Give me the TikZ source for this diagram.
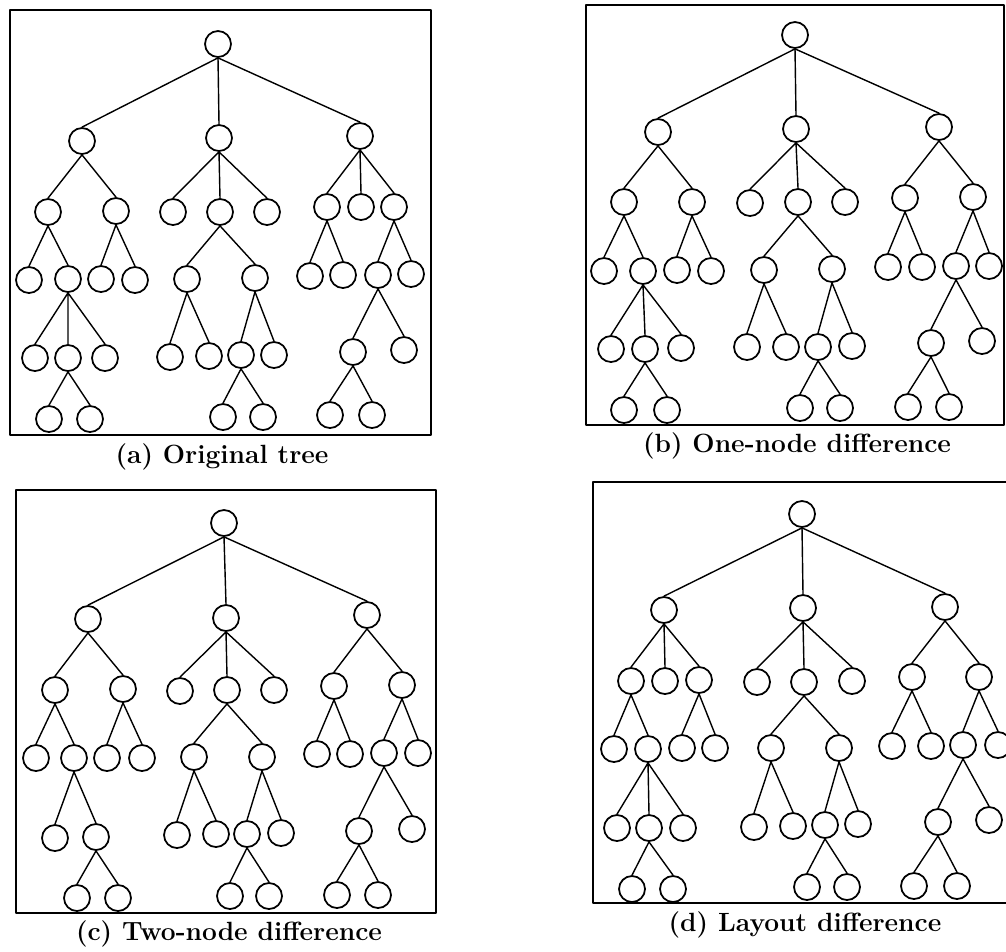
\documentclass[tikz,border=0pt]{standalone}
\usepackage{tikz}
\usetikzlibrary{positioning}

\begin{document}
\begin{tikzpicture}[x=0.02cm, y=-0.02cm, line cap=round, line join=round,
    vtx/.style={circle, draw, line width=1pt, minimum size=0.52cm, inner sep=0pt},
    edge/.style={line width=0.8pt, to path={(\tikztostart.south) -- (\tikztotarget.north)}},
    panel/.style={line width=1.6pt},
    subcap/.style={font=\fontsize{15}{17}\selectfont\bfseries}]
  \useasboundingbox (0,0) rectangle (1006,951);
  %--- (a) Original tree
    \draw[panel] (10,10) rectangle (431,435);
    \node[vtx] (a) at (218,44) {};
    \node[vtx] (a1) at (82,141) {};
    \node[vtx] (a2) at (219,138) {};
    \node[vtx] (a3) at (360,136) {};
    \node[vtx] (a11) at (48,212) {};
    \node[vtx] (a12) at (116,211) {};
    \node[vtx] (a111) at (29,280) {};
    \node[vtx] (a112) at (68,279) {};
    \node[vtx] (a1121) at (35,358) {};
    \node[vtx] (a1122) at (68,358) {};
    \node[vtx] (a1123) at (105,358) {};
    \node[vtx] (a11221) at (49,419) {};
    \node[vtx] (a11222) at (90,419) {};
    \node[vtx] (a121) at (101,279) {};
    \node[vtx] (a122) at (135,280) {};
    \node[vtx] (a21) at (173,212) {};
    \node[vtx] (a22) at (220,212) {};
    \node[vtx] (a23) at (267,212) {};
    \node[vtx] (a221) at (187,279) {};
    \node[vtx] (a222) at (255,278) {};
    \node[vtx] (a2211) at (170,357) {};
    \node[vtx] (a2212) at (209,356) {};
    \node[vtx] (a2221) at (241,355) {};
    \node[vtx] (a2222) at (274,355) {};
    \node[vtx] (a22211) at (223,417) {};
    \node[vtx] (a22212) at (263,417) {};
    \node[vtx] (a31) at (327,207) {};
    \node[vtx] (a32) at (361,207) {};
    \node[vtx] (a33) at (394,207) {};
    \node[vtx] (a311) at (310,276) {};
    \node[vtx] (a312) at (343,275) {};
    \node[vtx] (a331) at (378,275) {};
    \node[vtx] (a332) at (411,274) {};
    \node[vtx] (a3311) at (353,352) {};
    \node[vtx] (a3312) at (404,350) {};
    \node[vtx] (a33111) at (330,415) {};
    \node[vtx] (a33112) at (372,415) {};
    \draw[edge] (a) to (a1) (a) to (a2) (a) to (a3);
    \draw[edge] (a1) to (a11) (a1) to (a12) (a11) to (a111) (a11) to (a112);
    \draw[edge] (a112) to (a1121) (a112) to (a1122) (a112) to (a1123);
    \draw[edge] (a1122) to (a11221) (a1122) to (a11222) (a12) to (a121) (a12) to (a122);
    \draw[edge] (a2) to (a21) (a2) to (a22) (a2) to (a23) (a22) to (a221) (a22) to (a222);
    \draw[edge] (a221) to (a2211) (a221) to (a2212) (a222) to (a2221) (a222) to (a2222);
    \draw[edge] (a2221) to (a22211) (a2221) to (a22212);
    \draw[edge] (a3) to (a31) (a3) to (a32) (a3) to (a33) (a31) to (a311) (a31) to (a312);
    \draw[edge] (a33) to (a331) (a33) to (a332) (a331) to (a3311) (a331) to (a3312);
    \draw[edge] (a3311) to (a33111) (a3311) to (a33112);
    \node[subcap] (capa) at (222,457) {(a) Original tree};
  %--- (b) One-node difference
    \draw[panel] (586,5) rectangle (1004,425);
    \node[vtx] (b) at (795,35) {};
    \node[vtx] (b1) at (658,132) {};
    \node[vtx] (b2) at (796,129) {};
    \node[vtx] (b3) at (939,127) {};
    \node[vtx] (b11) at (624,202) {};
    \node[vtx] (b12) at (692,202) {};
    \node[vtx] (b111) at (604,271) {};
    \node[vtx] (b112) at (643,271) {};
    \node[vtx] (b1121) at (611,349) {};
    \node[vtx] (b1122) at (645,349) {};
    \node[vtx] (b1123) at (681,348) {};
    \node[vtx] (b11221) at (624,410) {};
    \node[vtx] (b11222) at (667,410) {};
    \node[vtx] (b121) at (677,270) {};
    \node[vtx] (b122) at (711,271) {};
    \node[vtx] (b21) at (750,203) {};
    \node[vtx] (b22) at (798,202) {};
    \node[vtx] (b23) at (845,202) {};
    \node[vtx] (b221) at (764,270) {};
    \node[vtx] (b222) at (832,269) {};
    \node[vtx] (b2211) at (747,347) {};
    \node[vtx] (b2212) at (786,347) {};
    \node[vtx] (b2221) at (818,347) {};
    \node[vtx] (b2222) at (852,346) {};
    \node[vtx] (b22211) at (800,408) {};
    \node[vtx] (b22212) at (840,408) {};
    \node[vtx] (b31) at (905,198) {};
    \node[vtx] (b32) at (973,197) {};
    \node[vtx] (b311) at (888,267) {};
    \node[vtx] (b312) at (922,267) {};
    \node[vtx] (b321) at (956,266) {};
    \node[vtx] (b322) at (989,266) {};
    \node[vtx] (b3211) at (931,343) {};
    \node[vtx] (b3212) at (982,341) {};
    \node[vtx] (b32111) at (908,407) {};
    \node[vtx] (b32112) at (949,407) {};
    \draw[edge] (b) to (b1) (b) to (b2) (b) to (b3);
    \draw[edge] (b1) to (b11) (b1) to (b12) (b11) to (b111) (b11) to (b112);
    \draw[edge] (b112) to (b1121) (b112) to (b1122) (b112) to (b1123);
    \draw[edge] (b1122) to (b11221) (b1122) to (b11222) (b12) to (b121) (b12) to (b122);
    \draw[edge] (b2) to (b21) (b2) to (b22) (b2) to (b23) (b22) to (b221) (b22) to (b222);
    \draw[edge] (b221) to (b2211) (b221) to (b2212) (b222) to (b2221) (b222) to (b2222);
    \draw[edge] (b2221) to (b22211) (b2221) to (b22212);
    \draw[edge] (b3) to (b31) (b3) to (b32) (b31) to (b311) (b31) to (b312);
    \draw[edge] (b32) to (b321) (b32) to (b322) (b321) to (b3211) (b321) to (b3212);
    \draw[edge] (b3211) to (b32111) (b3211) to (b32112);
    \node[subcap] (capb) at (797,446) {(b) One-node difference};
  %--- (c) Two-node difference
    \draw[panel] (16,490) rectangle (436,913);
    \node[vtx] (c) at (224,523) {};
    \node[vtx] (c1) at (88,619) {};
    \node[vtx] (c2) at (226,618) {};
    \node[vtx] (c3) at (367,615) {};
    \node[vtx] (c11) at (55,690) {};
    \node[vtx] (c12) at (123,689) {};
    \node[vtx] (c111) at (36,758) {};
    \node[vtx] (c112) at (74,758) {};
    \node[vtx] (c1121) at (55,838) {};
    \node[vtx] (c1122) at (96,837) {};
    \node[vtx] (c11221) at (77,898) {};
    \node[vtx] (c11222) at (118,898) {};
    \node[vtx] (c121) at (107,758) {};
    \node[vtx] (c122) at (142,758) {};
    \node[vtx] (c21) at (180,691) {};
    \node[vtx] (c22) at (227,690) {};
    \node[vtx] (c23) at (274,690) {};
    \node[vtx] (c221) at (194,757) {};
    \node[vtx] (c222) at (262,757) {};
    \node[vtx] (c2211) at (177,835) {};
    \node[vtx] (c2212) at (216,834) {};
    \node[vtx] (c2221) at (247,834) {};
    \node[vtx] (c2222) at (281,833) {};
    \node[vtx] (c22211) at (230,896) {};
    \node[vtx] (c22212) at (269,896) {};
    \node[vtx] (c31) at (334,686) {};
    \node[vtx] (c32) at (402,685) {};
    \node[vtx] (c311) at (317,754) {};
    \node[vtx] (c312) at (350,754) {};
    \node[vtx] (c321) at (384,753) {};
    \node[vtx] (c322) at (418,753) {};
    \node[vtx] (c3211) at (359,831) {};
    \node[vtx] (c3212) at (412,829) {};
    \node[vtx] (c32111) at (337,895) {};
    \node[vtx] (c32112) at (378,895) {};
    \draw[edge] (c) to (c1) (c) to (c2) (c) to (c3);
    \draw[edge] (c1) to (c11) (c1) to (c12) (c11) to (c111) (c11) to (c112);
    \draw[edge] (c112) to (c1121) (c112) to (c1122);
    \draw[edge] (c1122) to (c11221) (c1122) to (c11222) (c12) to (c121) (c12) to (c122);
    \draw[edge] (c2) to (c21) (c2) to (c22) (c2) to (c23) (c22) to (c221) (c22) to (c222);
    \draw[edge] (c221) to (c2211) (c221) to (c2212) (c222) to (c2221) (c222) to (c2222);
    \draw[edge] (c2221) to (c22211) (c2221) to (c22212);
    \draw[edge] (c3) to (c31) (c3) to (c32) (c31) to (c311) (c31) to (c312);
    \draw[edge] (c32) to (c321) (c32) to (c322) (c321) to (c3211) (c321) to (c3212);
    \draw[edge] (c3211) to (c32111) (c3211) to (c32112);
    \node[subcap] (capc) at (229,934) {(c) Two-node difference};
  %--- (d) Layout difference
    \draw[panel] (593,482) rectangle (1012,903);
    \node[vtx] (d) at (802,514) {};
    \node[vtx] (d1) at (664,610) {};
    \node[vtx] (d2) at (803,608) {};
    \node[vtx] (d3) at (945,607) {};
    \node[vtx] (d11) at (631,681) {};
    \node[vtx] (d12) at (665,681) {};
    \node[vtx] (d13) at (699,680) {};
    \node[vtx] (d111) at (614,749) {};
    \node[vtx] (d112) at (648,749) {};
    \node[vtx] (d1121) at (617,828) {};
    \node[vtx] (d1122) at (649,828) {};
    \node[vtx] (d1123) at (683,828) {};
    \node[vtx] (d11221) at (632,889) {};
    \node[vtx] (d11222) at (673,889) {};
    \node[vtx] (d131) at (682,748) {};
    \node[vtx] (d132) at (715,748) {};
    \node[vtx] (d21) at (757,682) {};
    \node[vtx] (d22) at (804,682) {};
    \node[vtx] (d23) at (852,681) {};
    \node[vtx] (d221) at (771,748) {};
    \node[vtx] (d222) at (839,748) {};
    \node[vtx] (d2211) at (754,827) {};
    \node[vtx] (d2212) at (793,826) {};
    \node[vtx] (d2221) at (825,825) {};
    \node[vtx] (d2222) at (858,824) {};
    \node[vtx] (d22211) at (807,887) {};
    \node[vtx] (d22212) at (847,887) {};
    \node[vtx] (d31) at (912,677) {};
    \node[vtx] (d32) at (979,677) {};
    \node[vtx] (d311) at (892,746) {};
    \node[vtx] (d312) at (931,746) {};
    \node[vtx] (d321) at (963,745) {};
    \node[vtx] (d322) at (998,745) {};
    \node[vtx] (d3211) at (938,822) {};
    \node[vtx] (d3212) at (989,820) {};
    \node[vtx] (d32111) at (914,886) {};
    \node[vtx] (d32112) at (957,886) {};
    \draw[edge] (d) to (d1) (d) to (d2) (d) to (d3);
    \draw[edge] (d1) to (d11) (d1) to (d12) (d1) to (d13) (d11) to (d111) (d11) to (d112);
    \draw[edge] (d112) to (d1121) (d112) to (d1122) (d112) to (d1123);
    \draw[edge] (d1122) to (d11221) (d1122) to (d11222) (d13) to (d131) (d13) to (d132);
    \draw[edge] (d2) to (d21) (d2) to (d22) (d2) to (d23) (d22) to (d221) (d22) to (d222);
    \draw[edge] (d221) to (d2211) (d221) to (d2212) (d222) to (d2221) (d222) to (d2222);
    \draw[edge] (d2221) to (d22211) (d2221) to (d22212);
    \draw[edge] (d3) to (d31) (d3) to (d32) (d31) to (d311) (d31) to (d312);
    \draw[edge] (d32) to (d321) (d32) to (d322) (d321) to (d3211) (d321) to (d3212);
    \draw[edge] (d3211) to (d32111) (d3211) to (d32112);
    \node[subcap] (capd) at (805,925) {(d) Layout difference};
\end{tikzpicture}
\end{document}
